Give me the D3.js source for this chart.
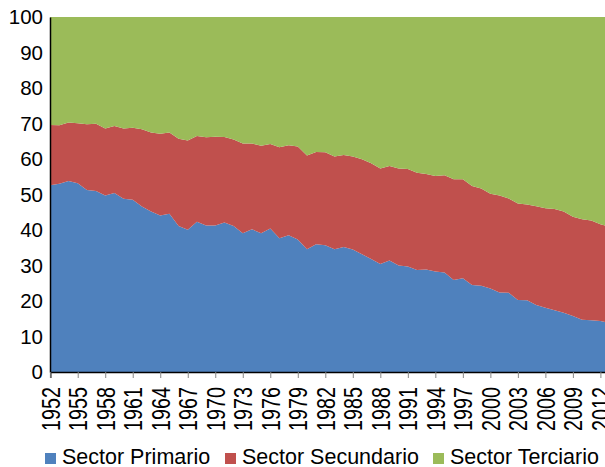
<!DOCTYPE html>
<html>
<head>
<meta charset="utf-8">
<script src="https://cdn.jsdelivr.net/npm/d3@7"></script>
<style>
  body { margin: 0; background: #fff; }
  text { font-family: "Liberation Sans", Arial, sans-serif; fill: #000; }
</style>
</head>
<body>
<svg id="chart" width="605" height="467"></svg>
<script>
// years on the category axis
var years = d3.range(1952, 2014);

// share of each sector (percent)
var primario = [
  52.6, 53.0, 53.8, 53.2, 51.3, 51.0, 49.7, 50.4, 48.8, 48.5,
  46.6, 45.2, 44.1, 44.6, 41.1, 40.1, 42.3, 41.3, 41.3, 42.1,
  41.1, 39.1, 40.2, 39.1, 40.4, 37.7, 38.5, 37.3, 34.6, 36.0,
  35.7, 34.6, 35.2, 34.5, 33.2, 31.8, 30.4, 31.4, 30.0, 29.7,
  28.7, 28.9, 28.3, 28.0, 25.9, 26.4, 24.5, 24.3, 23.5, 22.4,
  22.3, 20.3, 20.2, 18.9, 18.1, 17.4, 16.7, 15.8, 14.7, 14.6,
  14.4, 13.8
];
var secundario = [
  17.0, 16.5, 16.5, 16.9, 18.5, 18.9, 18.9, 18.9, 19.8, 20.3,
  21.8, 22.3, 23.0, 22.9, 24.6, 25.1, 24.2, 24.8, 25.0, 24.1,
  24.4, 25.3, 24.2, 24.6, 23.8, 25.6, 25.4, 26.2, 26.4, 26.0,
  26.2, 26.1, 25.9, 26.2, 26.7, 27.0, 26.9, 26.6, 27.3, 27.5,
  27.4, 26.9, 26.9, 27.4, 28.4, 27.9, 27.9, 27.4, 26.7, 27.3,
  26.6, 27.2, 27.0, 27.8, 28.0, 28.5, 28.5, 27.9, 28.3, 28.1,
  27.2, 27.1
];
var terciario = [
  30.4, 30.5, 29.7, 29.9, 30.2, 30.1, 31.4, 30.7, 31.4, 31.2,
  31.6, 32.5, 32.9, 32.5, 34.3, 34.8, 33.5, 33.9, 33.7, 33.8,
  34.5, 35.6, 35.6, 36.3, 35.8, 36.7, 36.1, 36.5, 39.0, 38.0,
  38.1, 39.3, 38.9, 39.3, 40.1, 41.2, 42.7, 42.0, 42.7, 42.8,
  43.9, 44.2, 44.8, 44.6, 45.7, 45.7, 47.6, 48.3, 49.8, 50.3,
  51.1, 52.5, 52.8, 53.3, 53.9, 54.1, 54.8, 56.3, 57.0, 57.3,
  58.4, 59.1
];

var seriesNames = ["Sector Primario", "Sector Secundario", "Sector Terciario"];
var seriesColors = ["#4f81bd", "#c0504d", "#9bbb59"];
var yTicks = [0, 10, 20, 30, 40, 50, 60, 70, 80, 90, 100];
var xTicks = d3.range(1952, 2013, 3);

// table for d3.stack
var rows = years.map(function(y, i) {
  var r = { year: y };
  r[seriesNames[0]] = primario[i];
  r[seriesNames[1]] = secundario[i];
  r[seriesNames[2]] = terciario[i];
  return r;
});

var svg = d3.select("#chart");
var plotLeft = 50, plotTop = 17, plotBottom = 372;
var yearStep = 9.17;

var x = d3.scaleLinear()
  .domain([1952, 2013])
  .range([plotLeft + 0.2, plotLeft + 0.2 + 61 * yearStep]);
var y = d3.scaleLinear().domain([0, 100]).range([plotBottom, plotTop]);

var stacked = d3.stack().keys(seriesNames)(rows);

var area = d3.area()
  .x(function(d) { return x(d.data.year); })
  .y0(function(d) { return y(d[0]); })
  .y1(function(d) { return y(d[1]); });

svg.append("g").selectAll("path")
  .data(stacked)
  .join("path")
  .attr("fill", function(d, i) { return seriesColors[i]; })
  .attr("d", area);

// y axis
var yAxis = svg.append("g")
  .attr("transform", "translate(" + plotLeft + ",0)")
  .call(d3.axisLeft(y).tickValues(yTicks).tickSize(0).tickPadding(7));
yAxis.select(".domain").attr("stroke", "#000").attr("stroke-width", 1.5);
yAxis.selectAll("text").style("font-size", "20.5px")
  .style("font-family", "Liberation Sans, Arial, sans-serif");

// x axis
var xAxis = svg.append("g")
  .attr("transform", "translate(0," + plotBottom + ")")
  .call(d3.axisBottom(x).tickValues(xTicks).tickSize(6)
    .tickFormat(d3.format("d")));
xAxis.select(".domain").attr("stroke", "#000").attr("stroke-width", 1.5);
xAxis.selectAll(".tick line").attr("stroke", "#888");
// labels read upward and look a bit condensed in the original
xAxis.selectAll("text")
  .style("font-size", "25px")
  .style("font-family", "Liberation Sans, Arial, sans-serif")
  .attr("text-anchor", "end")
  .attr("transform", "rotate(-90) scale(0.79,1)")
  .attr("x", -15 / 0.79)
  .attr("y", 0)
  .attr("dy", "0.36em");

// legend
var legendX = [45, 225, 433];
var legend = svg.append("g").selectAll("g")
  .data(seriesNames)
  .join("g")
  .attr("transform", function(d, i) { return "translate(" + legendX[i] + ",453)"; });
legend.append("rect")
  .attr("width", 11).attr("height", 11)
  .attr("fill", function(d, i) { return seriesColors[i]; });
legend.append("text")
  .attr("x", 17).attr("y", 10.5)
  .style("font-size", "21.5px")
  .text(function(d) { return d; });
</script>
</body>
</html>
